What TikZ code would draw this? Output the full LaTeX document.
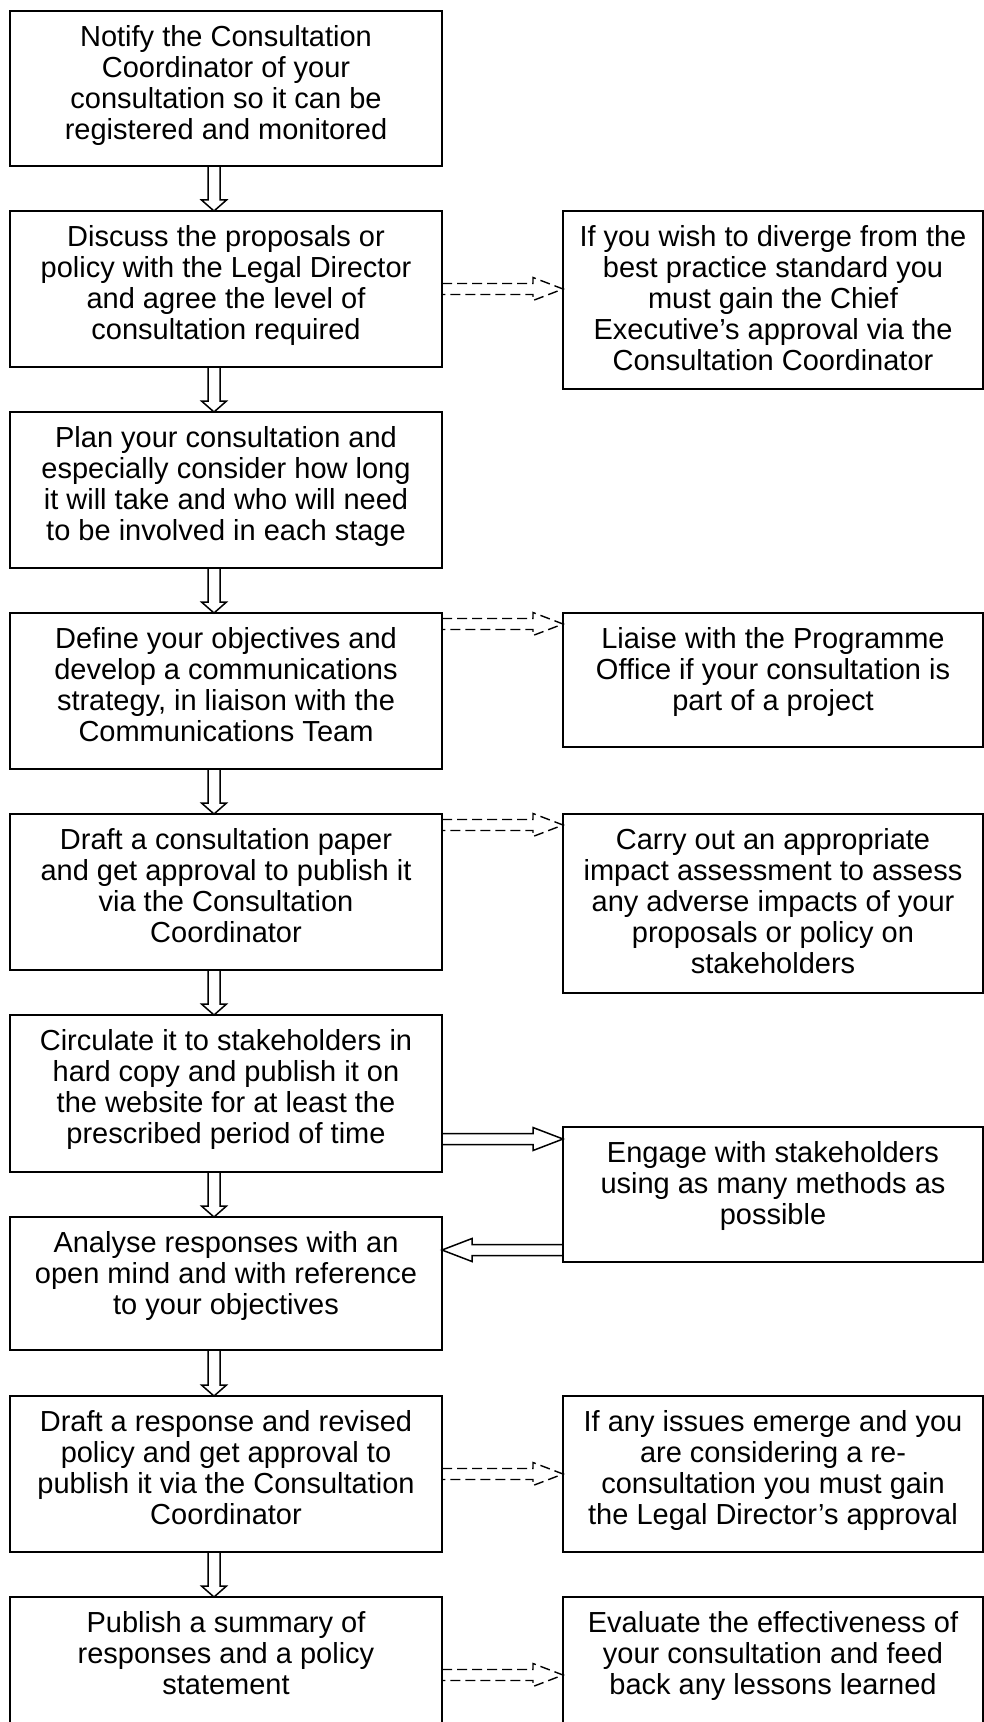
\documentclass[tikz,border=0pt]{standalone}
\usepackage{fontspec}
\setmainfont{Liberation Sans}
\usetikzlibrary{calc}
\tikzset{
  flowbox/.style={draw, line width=0.8pt, inner sep=0pt, outer sep=0pt,
    font=\fontsize{14.5}{15.5}\selectfont},
  solidarrow/.style={draw, line width=0.75pt, line join=miter},
  dasharrow/.style={draw, line width=0.7pt, dash pattern=on 5pt off 2.5pt}
}
% name, x1, y1, x2, y2 (pixels), text
\newcommand\fbx[6]{%
  \node[flowbox] (#1) at ({(#2+#4)/2},{(#3+#5)/2})
   {\parbox[c][\dimexpr(#5pt-#3pt)/2\relax][t]{\dimexpr(#4pt-#2pt)/2\relax}{\centering\rule{0pt}{17.8pt}#6}};}
% vertical double arrow from node #1 to node #2
\newcommand\vdarrow[2]{%
  \draw[solidarrow] let \p1=(#1.south), \p2=(#2.north) in
   (\x1-9pt,\y1) -- (\x1-9pt,\y2+5.5pt) -- (\x1-12.25pt,\y2+5.5pt) -- (\x1-6pt,\y2)
   -- (\x1+0.25pt,\y2+5.5pt) -- (\x1-3pt,\y2+5.5pt) -- (\x1-3pt,\y1);}
% horizontal double arrow: style, start anchor, shift (px down), target anchor, direction
\newcommand\hdarrow[5]{%
  \draw[#1] let \p1=($(#2)+(0,#3)$), \p2=(#4) in
   (\x1,\y1+2.75pt) -- (\x2-#5*15pt,\y1+2.75pt) -- (\x2-#5*15pt,\y1+5.75pt) -- (\x2,\y1)
   -- (\x2-#5*15pt,\y1-5.75pt) -- (\x2-#5*15pt,\y1-2.75pt) -- (\x1,\y1-2.75pt);}
\begin{document}
\begin{tikzpicture}[x=0.5pt,y=-0.5pt]
\clip (0,0) rectangle (984,1722);
\useasboundingbox (0,0) rectangle (984,1722);

\fbx{b1}{10}{11}{442}{166}{Notify the Consultation\\Coordinator of your\\consultation so it can be\\registered and monitored}
\fbx{b2}{10}{211}{442}{367}{Discuss the proposals or\\policy with the Legal Director\\and agree the level of\\consultation required}
\fbx{r1}{563}{211}{983}{389}{If you wish to diverge from the\\best practice standard you\\must gain the Chief\\Executive’s approval via the\\Consultation Coordinator}
\fbx{b3}{10}{412}{442}{568}{Plan your consultation and\\especially consider how long\\it will take and who will need\\to be involved in each stage}
\fbx{b4}{10}{613}{442}{769}{Define your objectives and\\develop a communications\\strategy, in liaison with the\\Communications Team}
\fbx{r2}{563}{613}{983}{747}{Liaise with the Programme\\Office if your consultation is\\part of a project}
\fbx{b5}{10}{814}{442}{970}{Draft a consultation paper\\and get approval to publish it\\via the Consultation\\Coordinator}
\fbx{r3}{563}{814}{983}{993}{Carry out an appropriate\\impact assessment to assess\\any adverse impacts of your\\proposals or policy on\\stakeholders}
\fbx{b6}{10}{1015}{442}{1172}{Circulate it to stakeholders in\\hard copy and publish it on\\the website for at least the\\prescribed period of time}
\fbx{r4}{563}{1127}{983}{1262}{Engage with stakeholders\\using as many methods as\\possible}
\fbx{b7}{10}{1217}{442}{1350}{Analyse responses with an\\open mind and with reference\\to your objectives}
\fbx{b8}{10}{1396}{442}{1552}{Draft a response and revised\\policy and get approval to\\publish it via the Consultation\\Coordinator}
\fbx{r5}{563}{1396}{983}{1552}{If any issues emerge and you\\are considering a re-\\consultation you must gain\\the Legal Director’s approval}
\fbx{b9}{10}{1597}{442}{1752}{Publish a summary of\\responses and a policy\\statement}
\fbx{r6}{563}{1597}{983}{1752}{Evaluate the effectiveness of\\your consultation and feed\\back any lessons learned}

\vdarrow{b1}{b2}
\vdarrow{b2}{b3}
\vdarrow{b3}{b4}
\vdarrow{b4}{b5}
\vdarrow{b5}{b6}
\vdarrow{b6}{b7}
\vdarrow{b7}{b8}
\vdarrow{b8}{b9}

\hdarrow{dasharrow}{b2.north east}{78}{r1.west}{1}
\hdarrow{dasharrow}{b4.north east}{11}{r2.west}{1}
\hdarrow{dasharrow}{b5.north east}{11}{r3.west}{1}
\hdarrow{solidarrow}{b6.north east}{124}{r4.west}{1}
\hdarrow{solidarrow}{r4.north west}{123}{b7.east}{-1}
\hdarrow{dasharrow}{b8.north east}{78}{r5.west}{1}
\hdarrow{dasharrow}{b9.north east}{78}{r6.west}{1}
\end{tikzpicture}
\end{document}
